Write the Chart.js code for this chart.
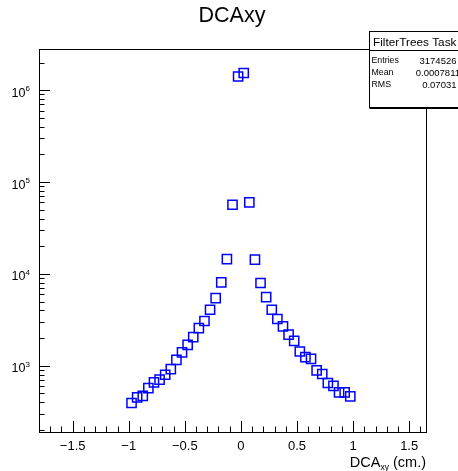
<!DOCTYPE html>
<html>
<head>
<meta charset="utf-8">
<script src="https://cdn.jsdelivr.net/npm/chart.js@4.4.0/dist/chart.umd.min.js"></script>
<style>
  html, body { margin: 0; padding: 0; background: #fff; }
  #wrap { width: 458px; height: 471px; }
</style>
</head>
<body>
<div id="wrap"><canvas id="dcaChart" width="458" height="471"></canvas></div>
<script>
// histogram bins (bin centres, cm) and entries
const binCenters = [
  -0.975, -0.925, -0.875, -0.825, -0.775, -0.725, -0.675, -0.625, -0.575, -0.525,
  -0.475, -0.425, -0.375, -0.325, -0.275, -0.225, -0.175, -0.125, -0.075, -0.025,
  0.025, 0.075, 0.125, 0.175, 0.225, 0.275, 0.325, 0.375, 0.425, 0.475,
  0.525, 0.575, 0.625, 0.675, 0.725, 0.775, 0.825, 0.875, 0.925, 0.975
];
const counts = [
  393, 452, 471, 571, 658, 705, 798, 920, 1160, 1400,
  1690, 2050, 2570, 3070, 4070, 5460, 8070, 14500, 56600, 1410000,
  1540000, 60000, 14300, 7960, 5600, 4070, 3230, 2680, 2180, 1870,
  1430, 1240, 1190, 889, 813, 649, 605, 512, 512, 463
];

const xMajorTicks = [-1.5, -1, -0.5, 0, 0.5, 1, 1.5];
const xTickLabels = ["\u22121.5", "\u22121", "\u22120.5", "0", "0.5", "1", "1.5"];
const yDecades = [3, 4, 5, 6];

const histTitle = "DCAxy";
const statsTitle = "FilterTrees Task";
const statLabels = ["Entries", "Mean", "RMS"];
const statValues = ["3174526", "0.0007811", "0.07031"];

const FONT = "'Liberation Sans', Arial, Helvetica, sans-serif";

const rootStyle = {
  id: "rootStyle",
  afterDraw(chart) {
    const ctx = chart.ctx;
    const area = chart.chartArea;
    const xs = chart.scales.x;
    const ys = chart.scales.y;
    ctx.save();
    ctx.strokeStyle = "#000";
    ctx.fillStyle = "#000";
    ctx.lineWidth = 1;

    // frame
    ctx.strokeRect(Math.round(area.left) + 0.5, Math.round(area.top) + 0.5,
      Math.round(area.right - area.left), Math.round(area.bottom - area.top));

    // x ticks, every 0.1, long every 0.5
    ctx.beginPath();
    for (let i = -18; i <= 16; i++) {
      const px = Math.round(xs.getPixelForValue(i / 10)) + 0.5;
      const len = i % 5 === 0 ? 11 : 5.5;
      ctx.moveTo(px, area.bottom);
      ctx.lineTo(px, area.bottom - len);
    }
    // y ticks, log
    for (let d = 2; d <= 6; d++) {
      for (let m = 1; m <= 9; m++) {
        const v = m * Math.pow(10, d);
        if (v < ys.min || v > ys.max) continue;
        const py = Math.round(ys.getPixelForValue(v)) + 0.5;
        const len = m === 1 ? 11 : 5.5;
        ctx.moveTo(area.left, py);
        ctx.lineTo(area.left + len, py);
      }
    }
    ctx.stroke();

    // x labels
    ctx.textAlign = "center";
    ctx.textBaseline = "alphabetic";
    ctx.font = "13px " + FONT;
    xMajorTicks.forEach((v, i) => {
      ctx.fillText(xTickLabels[i], xs.getPixelForValue(v), 450);
    });

    // y labels 10^n
    yDecades.forEach(d => {
      const py = ys.getPixelForValue(Math.pow(10, d));
      ctx.font = "12.5px " + FONT;
      ctx.textAlign = "right";
      ctx.fillText("10", 25.5, py + 6.5);
      ctx.font = "8px " + FONT;
      ctx.textAlign = "left";
      ctx.fillText(String(d), 25.5, py + 1);
    });

    // x axis title DCA_xy (cm.)
    ctx.textAlign = "left";
    ctx.font = "14.5px " + FONT;
    const w1 = ctx.measureText("DCA").width;
    const w3 = ctx.measureText(" (cm.)").width;
    ctx.font = "8.5px " + FONT;
    const w2 = ctx.measureText("xy").width;
    let tx = area.right - (w1 + w2 + w3);
    ctx.font = "14.5px " + FONT;
    ctx.fillText("DCA", tx, 467);
    ctx.font = "8.5px " + FONT;
    ctx.fillText("xy", tx + w1, 469.5);
    ctx.font = "14.5px " + FONT;
    ctx.fillText(" (cm.)", tx + w1 + w2, 467);

    // title
    ctx.font = "21.5px " + FONT;
    ctx.textAlign = "center";
    ctx.fillText(histTitle, 232, 22);

    // stats box
    const bx = 369.5, by = 31.5, bw = 100, bh = 76;
    ctx.fillStyle = "#fff";
    ctx.fillRect(bx, by, bw, bh);
    ctx.strokeRect(bx, by, bw, bh);
    ctx.lineWidth = 2;
    ctx.beginPath();
    ctx.moveTo(bx, by + bh + 0.5);
    ctx.lineTo(bx + bw, by + bh + 0.5);
    ctx.stroke();
    ctx.lineWidth = 1;
    ctx.beginPath();
    ctx.moveTo(bx, 50.5);
    ctx.lineTo(bx + bw, 50.5);
    ctx.stroke();
    ctx.fillStyle = "#000";
    ctx.textBaseline = "middle";
    ctx.textAlign = "left";
    ctx.font = "11.8px " + FONT;
    ctx.fillText(statsTitle, 373, 43);
    statLabels.forEach((lab, i) => {
      const ry = 61 + i * 12;
      ctx.font = "8.8px " + FONT;
      ctx.textAlign = "left";
      ctx.fillText(lab, 371.5, ry);
      ctx.font = "9.5px " + FONT;
      ctx.textAlign = "right";
      // the mean string runs past the right edge in the original
      ctx.fillText(statValues[i], i === 1 ? 460 : 456.5, ry);
    });
    ctx.restore();
  }
};

new Chart(document.getElementById("dcaChart"), {
  type: "scatter",
  data: {
    datasets: [{
      label: histTitle,
      data: binCenters.map((x, i) => ({ x: x, y: counts[i] })),
      pointStyle: "rect",
      radius: 6.5,
      hoverRadius: 6.5,
      borderWidth: 1.5,
      borderColor: "#0000ff",
      backgroundColor: "rgba(0,0,0,0)"
    }]
  },
  options: {
    responsive: false,
    animation: false,
    layout: { padding: { left: 39, top: 49, right: 32, bottom: 39 } },
    plugins: { legend: { display: false }, tooltip: { enabled: false } },
    scales: {
      x: { type: "linear", min: -1.8, max: 1.65, display: false },
      y: { type: "logarithmic", min: 190, max: 2.81e6, display: false }
    }
  },
  plugins: [rootStyle]
});
</script>
</body>
</html>
